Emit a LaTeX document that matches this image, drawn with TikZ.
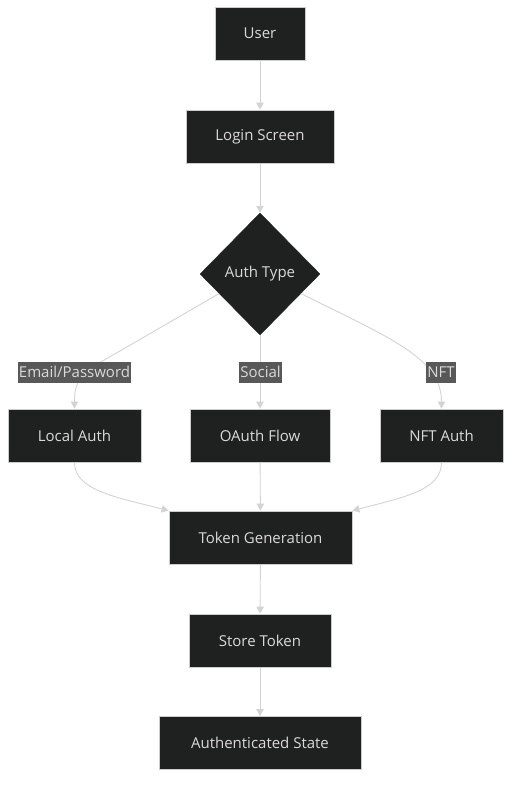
\documentclass[tikz,border=0pt]{standalone}
\usepackage{fontspec}
\setmainfont{Open Sans}
\usetikzlibrary{shapes.geometric,arrows.meta,calc}
\definecolor{nodefill}{HTML}{1F2020}
\definecolor{nodeline}{HTML}{CCCCCC}
\definecolor{txt}{HTML}{DADADA}
\definecolor{edgecol}{HTML}{D3D3D3}
\definecolor{labfill}{HTML}{585858}
\tikzset{
  box/.style={draw=nodeline, line width=0.8pt, fill=nodefill, text=txt, inner sep=0pt,
    minimum height=53pt, font=\fontsize{15}{17}\selectfont},
  dia/.style={diamond, draw=nodefill, fill=nodefill, text=txt, inner sep=0pt,
    minimum width=120pt, minimum height=122pt, font=\fontsize{15}{17}\selectfont},
  edge/.style={draw=edgecol, line width=0.9pt, -{Triangle[length=7pt,width=7.5pt]}},
  lab/.style={fill=labfill, text=txt, inner sep=1pt, minimum height=21pt,
    font=\fontsize{15}{17}\selectfont},
}
\begin{document}
\begin{tikzpicture}[x=1pt,y=-1pt]
\useasboundingbox (0,0) rectangle (519,789);
\node[box, minimum width=90pt] (user) at (260,33.5) {User};
\node[box, minimum width=148pt] (login) at (260,136.5) {Login Screen};
\node[dia] (auth) at (260,274) {Auth Type};
\node[box, minimum width=133pt] (local) at (74.5,435.5) {Local Auth};
\node[box, minimum width=140pt] (oauth) at (260,435.5) {OAuth Flow};
\node[box, minimum width=123pt] (nft) at (441.5,435.5) {NFT Auth};
\node[box, minimum width=183pt] (token) at (260.5,537.5) {Token Generation};
\node[box, minimum width=142pt] (store) at (260,640.5) {Store Token};
\node[box, minimum width=202pt] (state) at (260,743) {Authenticated State};

\draw[edge] (user) -- (login);
\draw[edge] (login) -- (auth);
\coordinate (ls) at ($(auth.west)!0.32!(auth.south)$);
\coordinate (rs) at ($(auth.east)!0.32!(auth.south)$);
\draw[edge] (ls) -- (120,351) .. controls (80,373) and (74.5,380) .. (local.north);
\draw[edge] (auth.south) -- (oauth.north);
\draw[edge] (rs) .. controls (390,338) and (441.5,358) .. (nft.north);
\draw[edge] (local.south) .. controls (74.5,490) and (115,497) .. (token.north west);
\draw[edge] (oauth) -- (token);
\draw[edge] (nft.south) .. controls (441.5,490) and (405,497) .. (token.north east);
\draw[edge] (token) -- (store);
\draw[edge] (store) -- (state);

\node[lab] (l1) at (74.5,372) {Email/Password};
\node[lab] (l2) at (260.5,372) {Social};
\node[lab] (l3) at (441,372) {NFT};
\end{tikzpicture}
\end{document}
